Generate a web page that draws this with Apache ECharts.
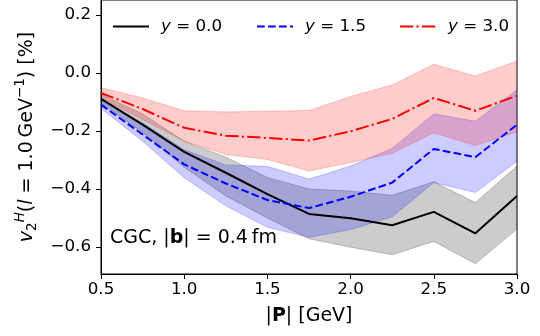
<!DOCTYPE html>
<html>
<head>
<meta charset="utf-8">
<script src="https://cdn.jsdelivr.net/npm/echarts@6/dist/echarts.min.js"></script>
<style>
  html, body { margin: 0; padding: 0; background: #fff; }
  #chart { width: 540px; height: 336px; }
</style>
</head>
<body>
<div id="chart"></div>
<script>
// |P| in GeV
const P = [0.5, 0.75, 1.0, 1.25, 1.5, 1.75, 2.0, 2.25, 2.5, 2.75, 3.0];

// y = 0.0
const y00 = [-0.089, -0.178, -0.272, -0.344, -0.418, -0.486, -0.501, -0.525, -0.479, -0.553, -0.424];
const y00Hi = [-0.074, -0.141, -0.235, -0.290, -0.360, -0.400, -0.407, -0.422, -0.375, -0.447, -0.321];
const y00Lo = [-0.103, -0.205, -0.325, -0.424, -0.500, -0.572, -0.601, -0.627, -0.581, -0.658, -0.538];

// y = 1.5
const y15 = [-0.109, -0.212, -0.315, -0.381, -0.438, -0.466, -0.427, -0.378, -0.262, -0.290, -0.178];
const y15Hi = [-0.093, -0.172, -0.265, -0.317, -0.322, -0.366, -0.321, -0.260, -0.141, -0.166, -0.058];
const y15Lo = [-0.122, -0.235, -0.361, -0.458, -0.532, -0.567, -0.540, -0.496, -0.378, -0.412, -0.304];

// y = 3.0
const y30 = [-0.069, -0.124, -0.189, -0.216, -0.224, -0.233, -0.201, -0.158, -0.086, -0.130, -0.078];
const y30Hi = [-0.050, -0.086, -0.130, -0.134, -0.132, -0.129, -0.081, -0.041, 0.030, -0.010, 0.042];
const y30Lo = [-0.088, -0.160, -0.235, -0.281, -0.298, -0.338, -0.309, -0.277, -0.206, -0.250, -0.203];

const yTicks = [-0.6, -0.4, -0.2, 0.0, 0.2];

const FONT = 'DejaVu Sans';

// shaded band = lower edge line + stacked (hi - lo) area on top of it
function band(id, lo, hi, color) {
  return [
    {
      type: 'line', stack: id, stackStrategy: 'all', data: lo, symbol: 'none', z: 1,
      lineStyle: { color: color, width: 1, opacity: 0.2 },
      silent: true,
    },
    {
      type: 'line', stack: id, stackStrategy: 'all', data: hi.map((v, i) => +(v - lo[i]).toFixed(4)),
      symbol: 'none', z: 1,
      lineStyle: { color: color, width: 1, opacity: 0.2 },
      areaStyle: { color: color, opacity: 0.2 },
      silent: true,
    },
  ];
}

function mean(name, ys, color, dash) {
  return {
    name: name, type: 'line', data: ys, symbol: 'none', z: 3,
    itemStyle: { color: color },
    lineStyle: { color: color, width: 2, type: dash, cap: 'butt' },
  };
}

function legendAt(name, left) {
  return {
    data: [name], left: left, top: 13,
    itemWidth: 36, itemHeight: 14,
    itemStyle: { opacity: 0 },
    formatter: (n) => n.replace('y', '{i|y}'),
    textStyle: {
      fontFamily: FONT, fontSize: 16.7, color: '#000', padding: [0, 0, 0, 7],
      rich: { i: { fontFamily: FONT, fontSize: 16.7, fontStyle: 'italic', color: '#000' } },
    },
  };
}

const chart = echarts.init(document.getElementById('chart'), null, { renderer: 'canvas' });

chart.setOption({
  animation: false,
  backgroundColor: '#fff',
  grid: {
    left: 101, right: 23, top: -2, bottom: 62,
    show: true, borderColor: '#000', borderWidth: 1, backgroundColor: 'transparent',
  },
  legend: [
    legendAt('y = 0.0', 107),
    legendAt('y = 1.5', 251),
    legendAt('y = 3.0', 394),
  ],
  xAxis: {
    type: 'category', data: P.map(String), boundaryGap: false,
    axisLine: { onZero: false, lineStyle: { color: '#000', width: 1 } },
    axisTick: { inside: false, length: 5, interval: 1, lineStyle: { color: '#000', width: 1 } },
    axisLabel: {
      color: '#000', fontFamily: FONT, fontSize: 16.7, margin: 7, interval: 1,
      formatter: (v) => Number(v).toFixed(1),
    },
    splitLine: { show: false },
    name: '|{b|P}| [GeV]', nameLocation: 'middle', nameGap: 33,
    nameTextStyle: {
      color: '#000', fontFamily: FONT, fontSize: 19,
      rich: { b: { fontFamily: FONT, fontSize: 19, fontWeight: 'bold', color: '#000' } },
    },
  },
  yAxis: {
    type: 'value', min: -0.6934, max: 0.2521,
    axisLine: { show: true, lineStyle: { color: '#000', width: 1 } },
    axisTick: { show: true, inside: false, length: 5, customValues: yTicks, lineStyle: { color: '#000', width: 1 } },
    axisLabel: {
      color: '#000', fontFamily: FONT, fontSize: 16.7, margin: 10, customValues: yTicks,
      formatter: (v) => v.toFixed(1).replace('-', '\u2212'),
    },
    splitLine: { show: false },
    name: '{i|v}{sub|2}{sup|H}({i|l} = 1.0\u2009GeV{supr|\u22121}) [%]',
    nameLocation: 'middle', nameGap: 60,
    nameTextStyle: {
      color: '#000', fontFamily: FONT, fontSize: 19, lineHeight: 26,
      rich: {
        i: { fontFamily: FONT, fontSize: 19, fontStyle: 'italic', color: '#000' },
        sub: { fontFamily: FONT, fontSize: 13.5, verticalAlign: 'bottom', lineHeight: 26, color: '#000' },
        sup: { fontFamily: FONT, fontSize: 13.5, fontStyle: 'italic', verticalAlign: 'top', lineHeight: 26, color: '#000' },
        supr: { fontFamily: FONT, fontSize: 13.5, verticalAlign: 'top', lineHeight: 26, color: '#000' },
      },
    },
  },
  graphic: [{
    type: 'text', left: 110, top: 229, z: 10,
    style: {
      text: 'CGC, |{b|b}| = 0.4\u2009fm',
      fontFamily: FONT, fontSize: 19, fill: '#000',
      rich: { b: { fontFamily: FONT, fontSize: 19, fontWeight: 'bold', fill: '#000' } },
    },
  }],
  series: [
    ...band('g', y00Lo, y00Hi, '#000000'),
    ...band('b', y15Lo, y15Hi, '#0000ff'),
    ...band('r', y30Lo, y30Hi, '#ff0000'),
    mean('y = 0.0', y00, '#000000', 'solid'),
    mean('y = 1.5', y15, '#0000ff', [7.7, 3.3]),
    mean('y = 3.0', y30, '#ff0000', [13.3, 3.3, 2.1, 3.3]),
  ],
});
</script>
</body>
</html>
